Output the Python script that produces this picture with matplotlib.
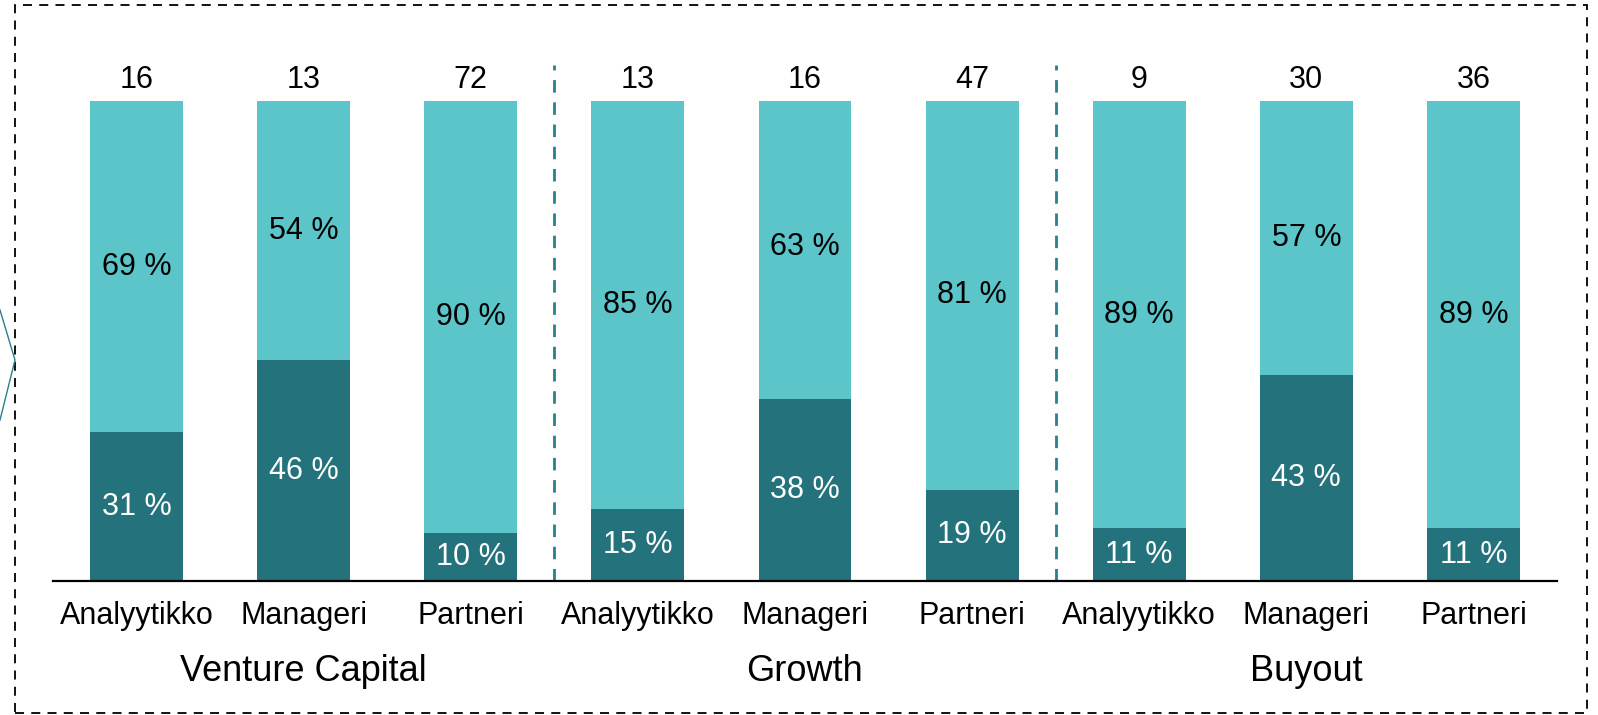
import matplotlib.pyplot as plt
from matplotlib.lines import Line2D
from matplotlib.patches import Rectangle

roles = ['Analyytikko', 'Manageri', 'Partneri'] * 3
groups = ['Venture Capital', 'Growth', 'Buyout']
counts = [16, 13, 72, 13, 16, 47, 9, 30, 36]
dark_pct = [31, 46, 10, 15, 38, 19, 11, 43, 11]
light_pct = [69, 54, 90, 85, 63, 81, 89, 57, 89]

LIGHT = '#5BC5CA'
DARK = '#23727C'
W, H = 1598, 715

plt.rcParams['font.family'] = ['Liberation Sans', 'DejaVu Sans']

fig = plt.figure(figsize=(W / 100, H / 100), dpi=100)

# axes placed in pixel terms: baseline at y=581, 100 % at y=101
ax = fig.add_axes([53 / W, (H - 581) / H, 1504 / W, 480 / H])
x = list(range(len(counts)))
ax.bar(x, dark_pct, width=0.556, color=DARK)
ax.bar(x, light_pct, width=0.556, bottom=dark_pct, color=LIGHT)
ax.set_xlim(-0.5, len(counts) - 0.5)
ax.set_ylim(0, 100)

for i in x:
    ax.text(i, dark_pct[i] / 2, f'{dark_pct[i]} %', ha='center', va='center',
            color='white', fontsize=22)
    ax.text(i, dark_pct[i] + light_pct[i] / 2, f'{light_pct[i]} %', ha='center',
            va='center', color='black', fontsize=22)
    ax.text(i, 104.3, str(counts[i]), ha='center', va='center', fontsize=22)
    ax.text(i, -7.3, roles[i], ha='center', va='center', fontsize=22)

for g, name in enumerate(groups):
    ax.text(g * 3 + 1, -18.9, name, ha='center', va='center', fontsize=26)

for sep in [2.5, 5.5]:
    ax.plot([sep, sep], [0, 107.5], color='#2A7F8A', linestyle=(0, (4.5, 3.5)),
            linewidth=2, clip_on=False)

for s in ['top', 'right', 'left']:
    ax.spines[s].set_visible(False)
ax.spines['bottom'].set_linewidth(1.6)
ax.spines['bottom'].set_color('black')
ax.set_xticks([])
ax.set_yticks([])

# dashed frame around the chart
fig.patches.append(Rectangle((15 / W, 2 / H), 1572 / W, 708 / H, transform=fig.transFigure,
                             fill=False, edgecolor='black', linestyle=(0, (5, 4)),
                             linewidth=1.3))
# chevron at the left edge
fig.lines.append(Line2D([0, 15 / W, 0], [(H - 310) / H, (H - 360) / H, (H - 420) / H],
                        transform=fig.transFigure, color='#2A7F8A', linewidth=1))

fig.savefig('out.png', dpi=100)
